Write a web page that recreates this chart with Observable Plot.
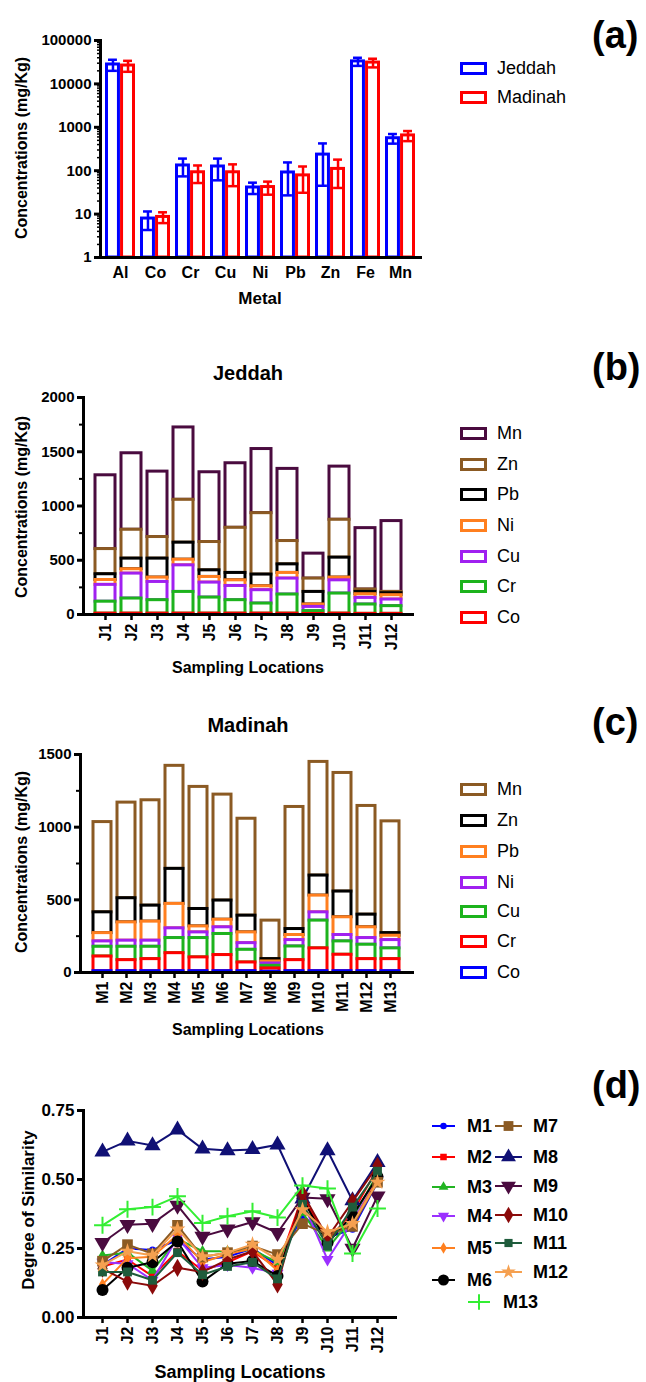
<!DOCTYPE html>
<html><head><meta charset="utf-8">
<script src="https://cdn.jsdelivr.net/npm/d3@7"></script>
<script src="https://cdn.jsdelivr.net/npm/@observablehq/plot@0.6"></script>
<style>
body{margin:0;background:#fff;}
#root{position:relative;width:646px;height:1382px;overflow:hidden;background:#fff;font-family:"Liberation Sans",Arial,Helvetica,sans-serif;}
</style></head><body><div id="root"></div>
<script>
// ---------- DATA ----------
// Panel (a)
const metalsA = ["Al","Co","Cr","Cu","Ni","Pb","Zn","Fe","Mn"];
const jeddahMean = [28000, 7.9, 132, 125, 41, 91, 235, 33000, 560];
const jeddahSD   = [8000, 3.6, 58, 65, 12, 64, 190, 7000, 140];
const madinahMean = [26500, 8.6, 92, 92, 42, 78, 110, 31000, 650];
const madinahSD   = [7500, 2.4, 40, 48, 14, 47, 70, 7000, 170];
const cities = ["Jeddah","Madinah"];
const logTicks = [1,10,100,1000,10000,100000];

// Panel (b) Jeddah stacked
const locsJ = ["J1","J2","J3","J4","J5","J6","J7","J8","J9","J10","J11","J12"];
const stackB = ["Co","Cr","Cu","Ni","Pb","Zn","Mn"];
const jCo = [8,8,8,8,8,8,8,8,5,8,6,6];
const jCr = [110,139,124,200,148,124,93,176,26,185,86,71];
const jCu = [155,230,168,245,138,131,123,147,39,122,61,61];
const jNi = [45,40,40,52,52,52,36,52,22,25,34,40];
const jPb = [53,98,175,157,61,68,108,79,116,184,21,18];
const jZn = [232,266,199,395,261,416,566,215,123,349,22,12];
const jMn = [680,705,603,667,643,595,591,665,230,490,566,653];

// Panel (c) Madinah stacked
const locsM = ["M1","M2","M3","M4","M5","M6","M7","M8","M9","M10","M11","M12","M13"];
const stackC = ["Co","Cr","Cu","Ni","Pb","Zn","Mn"];
const mCo = [9,9,9,9,9,9,9,5,9,9,9,9,9];
const mCr = [101,76,83,124,95,111,60,23,76,157,113,83,83];
const mCu = [67,92,85,104,133,145,87,18,94,191,92,99,74];
const mNi = [37,42,42,67,39,46,46,16,44,57,44,46,57];
const mPb = [57,126,131,168,41,52,74,14,35,115,122,74,30];
const mZn = [143,166,110,241,120,132,115,16,41,138,177,87,18];
const mMn = [621,658,725,709,840,729,667,265,840,782,816,748,769];

// Panel (d) degree of similarity
const seriesD = ["M1","M2","M3","M4","M5","M6","M7","M8","M9","M10","M11","M12","M13"];
const M1  = [0.19,0.25,0.245,0.28,0.21,0.22,0.25,0.19,0.37,0.29,0.32,0.49];
const M2  = [0.185,0.21,0.15,0.24,0.17,0.20,0.24,0.18,0.44,0.28,0.38,0.54];
const M3  = [0.225,0.235,0.17,0.285,0.24,0.24,0.245,0.20,0.38,0.25,0.36,0.52];
const M4  = [0.20,0.195,0.135,0.29,0.18,0.19,0.18,0.16,0.42,0.21,0.35,0.50];
const M5  = [0.12,0.215,0.22,0.30,0.20,0.23,0.25,0.17,0.40,0.30,0.34,0.50];
const M6  = [0.10,0.18,0.20,0.275,0.13,0.195,0.205,0.15,0.43,0.27,0.37,0.51];
const M7  = [0.204,0.264,0.231,0.334,0.219,0.235,0.259,0.228,0.34,0.30,0.33,0.49];
const M8  = [0.60,0.64,0.623,0.68,0.611,0.605,0.609,0.626,0.43,0.605,0.424,0.562];
const M9  = [0.271,0.336,0.340,0.406,0.294,0.320,0.346,0.307,0.435,0.43,0.25,0.44];
const M10 = [0.177,0.13,0.115,0.18,0.165,0.21,0.24,0.12,0.45,0.29,0.42,0.55];
const M11 = [0.165,0.165,0.135,0.235,0.155,0.185,0.20,0.14,0.41,0.26,0.40,0.53];
const M12 = [0.19,0.24,0.225,0.32,0.22,0.235,0.265,0.21,0.39,0.31,0.34,0.49];
const M13 = [0.334,0.392,0.400,0.439,0.342,0.367,0.385,0.362,0.478,0.467,0.232,0.395];
const valuesD = [M1,M2,M3,M4,M5,M6,M7,M8,M9,M10,M11,M12,M13];
const simTicks = [0,0.25,0.5,0.75];

// ---------- STYLE ----------
const FONT = "'Liberation Sans', Arial, Helvetica, sans-serif";
const colorsA = ["#0000ff","#ff0000"];
const colorsB = ["#ff0000","#1db31d","#a020f0","#ff7f1f","#000000","#8b5a23","#4a0b3f"];
const colorsC = ["#0000ff","#ff0000","#1db31d","#a020f0","#ff7f1f","#000000","#8b5a23"];
const colorsD = ["#0000ff","#ff0000","#22b422","#9b30ff","#ff8020","#000000","#8b5a23","#101075","#4a0b3f","#8b0a0a","#1f5c3c","#f5a050","#33ee33"];
const symD = [["circle",3.5,0],["square",4,0],["triangle",4,0],["triangle",4.5,180],["diamond",3.8,0],["circle",6,0],["square",6,0],["triangle",6,0],["triangle",6,180],["diamond",5.5,0],["square",5,0],["star",5,0],["plus",5.5,0]];
const baseStyle = {fontFamily: FONT, fontSize: "15px", fontWeight: "bold", background: "white", color: "black", overflow: "visible"};

const root = document.getElementById("root");
function place(el, top, left = 0) {
  el.style.position = "absolute"; el.style.top = top + "px"; el.style.left = left + "px";
  root.appendChild(el); return el;
}
function label(str, x, y, {size = 16, weight = "bold", anchor = "middle", rotate = 0} = {}) {
  const d = document.createElement("div");
  d.textContent = str;
  const tx = anchor === "middle" ? "-50%" : "0";
  d.style.cssText = `position:absolute;left:${x}px;top:${y}px;font-family:${FONT};font-size:${size}px;font-weight:${weight};white-space:nowrap;line-height:1;color:#000;transform:translate(${tx},-50%) rotate(${rotate}deg);`;
  root.appendChild(d); return d;
}
function boxLegend(items, colors, left, centers) {
  items.forEach((t, i) => {
    const b = document.createElement("div");
    b.style.cssText = `position:absolute;left:${left}px;top:${centers[i]-6.5}px;width:21px;height:7px;border:3px solid ${colors[i]};background:#fff;`;
    root.appendChild(b);
    label(t, left + 37, centers[i], {size: 18, weight: "normal", anchor: "left"});
  });
}

// ---------- PANEL (a) ----------
{
  const mL = 100, mR = 226, pad = 0.14, n = metalsA.length;
  const step = (646 - mL - mR) / (n - pad + 2 * pad);
  const bw = step * (1 - pad), half = bw / 2, capW = 9;
  const rows = (means, sds, city) => metalsA.map((m, i) => ({metal: m, city, mean: means[i], lo: means[i] - sds[i], hi: means[i] + sds[i]}));
  const rJ = rows(jeddahMean, jeddahSD, "Jeddah"), rM = rows(madinahMean, madinahSD, "Madinah");
  const cityMarks = (r, side) => {
    const dx = side * bw / 4, ins = (bw - capW) / 2;
    return [
      Plot.barY(r, {x: "metal", y1: 1, y2: "mean", fill: "white", stroke: "city", strokeWidth: 3,
        insetLeft: side < 0 ? 1.5 : half + 1.5, insetRight: side < 0 ? half + 1.5 : 1.5}),
      Plot.ruleX(r, {x: "metal", y1: "lo", y2: "hi", stroke: "city", strokeWidth: 2.5, dx}),
      Plot.tickY(r, {x: "metal", y: "hi", stroke: "city", strokeWidth: 2.5, dx, insetLeft: ins, insetRight: ins}),
      Plot.tickY(r, {x: "metal", y: "lo", stroke: "city", strokeWidth: 2.5, dx, insetLeft: ins, insetRight: ins})
    ];
  };
  const minor = [];
  for (let e = 0; e < 5; e++) for (let k = 2; k < 10; k++) minor.push(k * 10 ** e);
  const p = Plot.plot({
    width: 646, height: 290, marginLeft: mL, marginRight: mR, marginTop: 40, marginBottom: 33,
    style: baseStyle,
    x: {domain: metalsA, padding: pad},
    y: {type: "log", domain: [1, 100000]},
    color: {domain: cities, range: colorsA},
    marks: [
      ...cityMarks(rJ, -1), ...cityMarks(rM, 1),
      Plot.axisY({ticks: minor, tickFormat: () => "", tickSize: 3, strokeWidth: 1.5, label: null}),
      Plot.axisY({ticks: logTicks, tickFormat: d => String(d), tickSize: 6, tickPadding: 3, strokeWidth: 3, fontSize: 15, fontWeight: "bold", label: null}),
      Plot.axisX({tickSize: 0, tickPadding: 9, fontSize: 16, fontWeight: "bold", label: null}),
      Plot.frame({anchor: "left", strokeWidth: 3}),
      Plot.frame({anchor: "bottom", strokeWidth: 3})
    ]
  });
  place(p, 0);
  label("Concentrations  (mg/Kg)", 22, 148, {rotate: -90, size: 16});
  label("Metal", 260, 298, {size: 17});
  boxLegend(cities, colorsA, 460, [68, 97]);
  label("(a)", 592, 35, {size: 38, anchor: "left"});
}

// ---------- stacked panel helper ----------
function stacked(locs, order, colors, vals, opts) {
  const rows = [];
  for (let k = order.length - 1; k >= 0; k--) locs.forEach((l, i) => rows.push({loc: l, metal: order[k], v: vals[k][i]}));
  return Plot.plot({
    width: 646, height: opts.height, marginLeft: opts.mL, marginRight: opts.mR, marginTop: opts.mT, marginBottom: opts.mB,
    style: baseStyle,
    x: {domain: locs, paddingInner: opts.pi, paddingOuter: opts.po},
    y: {domain: [0, opts.max]},
    color: {domain: order, range: colors},
    marks: [
      Plot.barY(rows, {x: "loc", y: "v", stroke: "metal", fill: "white", strokeWidth: 3, order}),
      Plot.axisY({ticks: opts.minor, tickFormat: () => "", tickSize: 4, strokeWidth: 2, label: null}),
      Plot.axisY({ticks: opts.major, tickSize: 6, tickPadding: 3, strokeWidth: 3, fontSize: 15, fontWeight: "bold", tickFormat: d => String(d), label: null}),
      Plot.axisX({tickRotate: -90, tickSize: 6, tickPadding: 3, strokeWidth: 2.5, fontSize: 16, fontWeight: "bold", label: null}),
      Plot.frame({anchor: "left", strokeWidth: 3}),
      Plot.frame({anchor: "bottom", strokeWidth: 3})
    ]
  });
}

// ---------- PANEL (b) ----------
{
  const p = stacked(locsJ, stackB, colorsB, [jCo, jCr, jCu, jNi, jPb, jZn, jMn],
    {height: 340, mL: 83, mR: 234, mT: 67, mB: 56, pi: 0.25, po: 0.285, max: 2000,
     major: [0, 500, 1000, 1500, 2000], minor: [250, 750, 1250, 1750]});
  place(p, 330);
  label("Jeddah", 248, 373, {size: 20});
  label("Concentrations  (mg/Kg)", 22, 507, {rotate: -90, size: 16});
  label("Sampling Locations", 248, 668, {size: 16});
  const lb = stackB.slice().reverse(), lc = colorsB.slice().reverse();
  boxLegend(lb, lc, 460, [433, 464, 494, 525, 556, 586, 617]);
  label("(b)", 592, 367, {size: 38, anchor: "left"});
}

// ---------- PANEL (c) ----------
{
  const p = stacked(locsM, stackC, colorsC, [mCo, mCr, mCu, mNi, mPb, mZn, mMn],
    {height: 330, mL: 80, mR: 234, mT: 64, mB: 48, pi: 0.27, po: 0.385, max: 1500,
     major: [0, 500, 1000, 1500], minor: [250, 750, 1250]});
  place(p, 690);
  label("Madinah", 248, 725, {size: 20});
  label("Concentrations  (mg/Kg)", 22, 862, {rotate: -90, size: 16});
  label("Sampling Locations", 248, 1030, {size: 16});
  const lb = stackC.slice().reverse(), lc = colorsC.slice().reverse();
  boxLegend(lb, lc, 460, [789, 820, 851, 882, 911, 941, 972]);
  label("(c)", 592, 722, {size: 38, anchor: "left"});
}

// ---------- PANEL (d) ----------
{
  const marks = [];
  seriesD.forEach((s, i) => {
    const rows = locsJ.map((l, j) => ({series: s, loc: l, v: valuesD[i][j]}));
    const [sym, r, rot] = symD[i];
    marks.push(Plot.line(rows, {x: "loc", y: "v", stroke: colorsD[i], strokeWidth: 2}));
    if (sym === "plus") marks.push(Plot.dot(rows, {x: "loc", y: "v", symbol: sym, r, stroke: colorsD[i], strokeWidth: 2}));
    else marks.push(Plot.dot(rows, {x: "loc", y: "v", symbol: sym, r, rotate: rot, fill: colorsD[i], stroke: "none"}));
  });
  const p = Plot.plot({
    width: 646, height: 300, marginLeft: 83, marginRight: 251, marginTop: 50, marginBottom: 43,
    style: baseStyle,
    x: {type: "point", domain: locsJ, padding: 0.67},
    y: {domain: [0, 0.75]},
    marks: [
      ...marks,
      Plot.axisY({ticks: simTicks, tickFormat: d3.format(".2f"), tickSize: 6, tickPadding: 3, strokeWidth: 3, fontSize: 17, fontWeight: "bold", label: null}),
      Plot.axisX({tickRotate: -90, tickSize: 6, tickPadding: 3, strokeWidth: 2.5, fontSize: 16, fontWeight: "bold", label: null}),
      Plot.frame({anchor: "left", strokeWidth: 3}),
      Plot.frame({anchor: "bottom", strokeWidth: 3})
    ]
  });
  place(p, 1060);
  label("Degree of Similarity", 28, 1210, {rotate: -90, size: 17});
  label("Sampling Locations", 240, 1372, {size: 18});
  label("(d)", 592, 1085, {size: 38, anchor: "left"});

  // legend
  const symType = {circle: d3.symbolCircle, square: d3.symbolSquare, triangle: d3.symbolTriangle, diamond: d3.symbolDiamond, star: d3.symbolStar, plus: d3.symbolPlus};
  const pos = [
    [432, 1126], [432, 1157], [432, 1187], [432, 1216], [432, 1248], [432, 1280],
    [495, 1126], [495, 1157], [495, 1186], [495, 1215], [495, 1243], [495, 1272],
    [468, 1302]
  ];
  const textX = [467, 467, 467, 467, 467, 467, 533, 533, 533, 533, 533, 533, 503];
  seriesD.forEach((s, i) => {
    const [sym, r, rot] = symD[i];
    const w = i === 12 ? 22 : (i >= 6 ? 27 : 23);
    const svg = d3.create("svg").attr("width", w).attr("height", 16)
      .style("position", "absolute").style("left", pos[i][0] + "px").style("top", (pos[i][1] - 8) + "px").style("overflow", "visible");
    svg.append("line").attr("x1", 0).attr("x2", w).attr("y1", 8).attr("y2", 8).attr("stroke", colorsD[i]).attr("stroke-width", 2);
    const path = svg.append("path").attr("d", d3.symbol(symType[sym], Math.PI * r * r * 0.85)())
      .attr("transform", `translate(${w / 2},8) rotate(${rot})`);
    if (sym === "plus") path.attr("fill", "none").attr("stroke", colorsD[i]).attr("stroke-width", 2);
    else path.attr("fill", colorsD[i]);
    root.appendChild(svg.node());
    label(s, textX[i], pos[i][1], {size: 18, anchor: "left"});
  });
}
</script></body></html>
